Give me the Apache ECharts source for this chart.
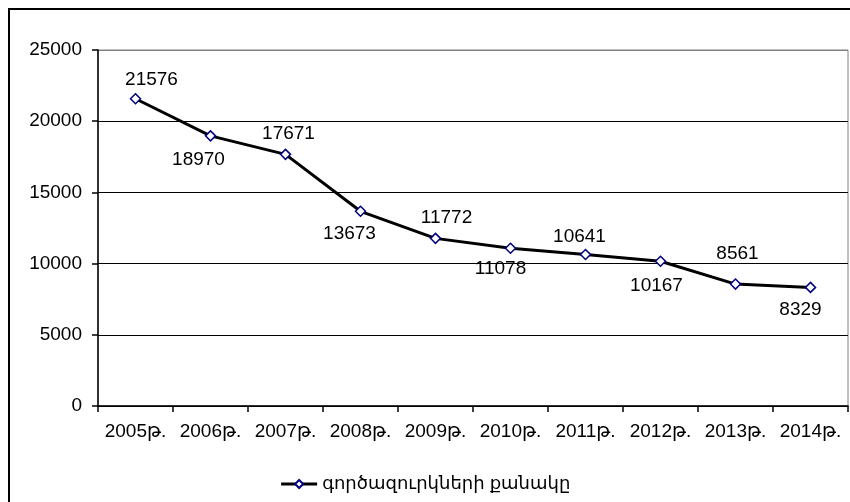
<!DOCTYPE html>
<html>
<head>
<meta charset="utf-8">
<script src="https://cdn.jsdelivr.net/npm/echarts@6/dist/echarts.min.js"></script>
<style>
  html, body { margin: 0; padding: 0; background: #fff; }
  #chart { width: 850px; height: 502px; }
</style>
</head>
<body>
<div id="chart"></div>
<script>
var years = ['2005թ.', '2006թ.', '2007թ.', '2008թ.', '2009թ.', '2010թ.', '2011թ.', '2012թ.', '2013թ.', '2014թ.'];
var unemployed = [21576, 18970, 17671, 13673, 11772, 11078, 10641, 10167, 8561, 8329];
var seriesName = 'գործազուրկների քանակը';
// where each value label sits relative to its point
var labelShift = [[16, -19], [-12, 24], [3, -21], [-11, 22], [11, -21], [-10, 21], [-6, -18], [-4, 25], [2, -30], [-10, 22]];

var font = '"Liberation Sans", Arial, "DejaVu Sans", sans-serif';
var myChart = echarts.init(document.getElementById('chart'));

var points = unemployed.map(function (v, i) {
    return {
        value: v,
        label: { offset: labelShift[i] }
    };
});

option = {
    animation: false,
    textStyle: { fontFamily: font },
    graphic: [{
        type: 'rect',
        shape: { x: 9, y: 9, width: 860, height: 520 },
        style: { fill: 'none', stroke: '#000', lineWidth: 2 }
    }],
    grid: {
        left: 98, right: 2, top: 50, bottom: 96,
        show: true, borderColor: '#808080', borderWidth: 1
    },
    legend: {
        bottom: 4,
        left: 'center',
        itemWidth: 36,
        itemHeight: 10,
        itemGap: 6,
        lineStyle: { width: 3, color: '#000' },
        textStyle: { fontSize: 18, color: '#000', fontFamily: font },
        data: [seriesName]
    },
    xAxis: {
        type: 'category',
        data: years,
        boundaryGap: true,
        axisLine: { lineStyle: { color: '#000', width: 1.5 } },
        axisTick: { show: true, length: 6, lineStyle: { color: '#000', width: 1.5 } },
        axisLabel: { color: '#000', fontSize: 19, margin: 16, interval: 0 }
    },
    yAxis: {
        type: 'value',
        min: 0, max: 25000, interval: 5000,
        axisLine: { show: true, lineStyle: { color: '#000', width: 1.5 } },
        axisTick: { show: true, length: 6, lineStyle: { color: '#000', width: 1.5 } },
        axisLabel: { color: '#000', fontSize: 19, margin: 16, formatter: function (v) { return String(v); } },
        splitLine: {
            lineStyle: { color: ['#000', '#000', '#000', '#000', '#000', '#808080'], width: 1 }
        }
    },
    series: [{
        name: seriesName,
        type: 'line',
        data: points,
        symbol: 'diamond',
        symbolSize: 10,
        lineStyle: { color: '#000', width: 3 },
        itemStyle: { color: '#fff', borderColor: '#000080', borderWidth: 1.5 },
        label: {
            show: true,
            position: 'inside',
            color: '#000',
            fontSize: 19,
            fontFamily: font
        }
    }]
};

myChart.setOption(option);
</script>
</body>
</html>
